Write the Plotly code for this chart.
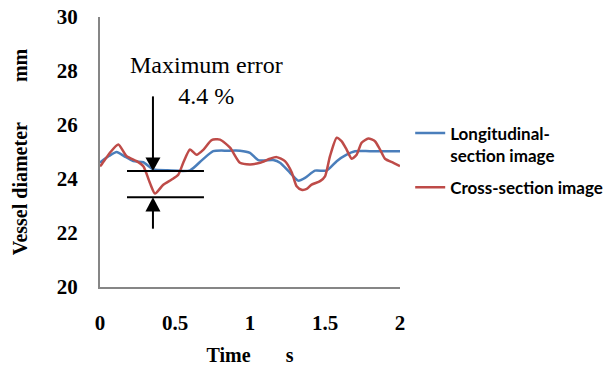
import plotly.graph_objects as go

# Data
t_long = [0, 0.011, 0.06, 0.111, 0.16, 0.222, 0.289, 0.33, 0.355, 0.45, 0.6, 0.68, 0.755,
          0.85, 0.933, 1.0, 1.055, 1.155, 1.2, 1.267, 1.322, 1.367, 1.433, 1.511, 1.578,
          1.644, 1.7, 1.8, 2.0]
d_long = [24.6, 24.66, 24.85, 25.0, 24.85, 24.66, 24.62, 24.45, 24.35, 24.32, 24.32, 24.7, 25.03,
          25.05, 25.05, 24.97, 24.7, 24.7, 24.6, 24.23, 23.94, 24.04, 24.31, 24.31, 24.66,
          24.9, 25.03, 25.03, 25.03]

t_cross = [0, 0.011, 0.07, 0.122, 0.178, 0.244, 0.289, 0.333, 0.367, 0.422, 0.478, 0.522,
           0.555, 0.6, 0.644, 0.69, 0.744, 0.8, 0.867, 0.933, 1.0, 1.067, 1.133, 1.178,
           1.233, 1.278, 1.311, 1.344, 1.378, 1.411, 1.467, 1.5, 1.533, 1.578, 1.61, 1.644,
           1.678, 1.711, 1.744, 1.789, 1.833, 1.867, 1.9, 1.956, 2.0]
d_cross = [24.47, 24.54, 25.0, 25.28, 24.84, 24.66, 24.47, 23.85, 23.46, 23.79, 23.98, 24.16,
           24.6, 25.09, 24.9, 25.09, 25.44, 25.46, 25.16, 24.6, 24.54, 24.6, 24.75, 24.81,
           24.66, 24.25, 23.73, 23.6, 23.63, 23.79, 23.92, 24.1, 24.84, 25.53, 25.4, 25.09,
           24.75, 24.9, 25.34, 25.5, 25.4, 25.09, 24.75, 24.6, 24.48]

x_ticks = [0, 0.5, 1, 1.5, 2]
x_ticklabels = ["0", "0.5", "1", "1.5", "2"]
y_ticks = [20, 22, 24, 26, 28, 30]

series_names = ["Longitudinal-<br>section image", "Cross-section image"]

# Error annotation values
err_upper = 24.3
err_lower = 23.32
err_x = 0.353
err_x0, err_x1 = 0.18, 0.693
arrow_top, arrow_bottom = 27.06, 22.16
err_label = "Maximum error<br>4.4 %"

fig = go.Figure()
fig.add_trace(go.Scatter(x=t_long, y=d_long, mode="lines", name=series_names[0], legendgroup="long",
                         line=dict(color="#4A7EBB", width=2.5, shape="spline", smoothing=0.6)))
fig.add_trace(go.Scatter(x=t_cross, y=d_cross, mode="lines", name=series_names[1], legendgroup="cross",
                         line=dict(color="#BE4B48", width=2.5, shape="spline", smoothing=0.6)))

blk = dict(color="black", width=2)
# horizontal error lines
fig.add_shape(type="line", x0=err_x0, x1=err_x1, y0=err_upper, y1=err_upper, xref="x", yref="y", line=blk)
fig.add_shape(type="line", x0=err_x0, x1=err_x1, y0=err_lower, y1=err_lower, xref="x", yref="y", line=blk)
# vertical arrow shafts
fig.add_shape(type="line", x0=err_x, x1=err_x, y0=arrow_top, y1=err_upper + 0.3, xref="x", yref="y", line=blk)
fig.add_shape(type="line", x0=err_x, x1=err_x, y0=err_lower - 0.3, y1=arrow_bottom, xref="x", yref="y", line=blk)
# arrowheads
hw = 0.05
fig.add_shape(type="path", xref="x", yref="y", fillcolor="black", line=dict(width=0),
              path=f"M {err_x - hw} {err_upper + 0.5} L {err_x + hw} {err_upper + 0.5} L {err_x} {err_upper} Z")
fig.add_shape(type="path", xref="x", yref="y", fillcolor="black", line=dict(width=0),
              path=f"M {err_x - hw} {err_lower - 0.52} L {err_x + hw} {err_lower - 0.52} L {err_x} {err_lower} Z")

fig.add_annotation(x=0.713, y=27.65, xref="x", yref="y", text=err_label, showarrow=False,
                   font=dict(family="Liberation Serif", size=24, color="black"), align="center")

fig.update_layout(
    width=611, height=366,
    margin=dict(l=100, r=211, t=17, b=79, autoexpand=False),
    paper_bgcolor="white", plot_bgcolor="white",
    showlegend=True,
    legend=dict(x=1.034, y=0.635, xanchor="left", yanchor="top", valign="top",
                font=dict(family="Lato", size=17, color="black", weight="bold"),
                itemwidth=30, tracegroupgap=7, bgcolor="rgba(0,0,0,0)"),
    xaxis=dict(range=[0, 2], tickvals=x_ticks, ticktext=x_ticklabels, showgrid=False, zeroline=False,
               showline=True, linecolor="#868686", linewidth=2, ticks="", automargin=False,
               ticklabeloverflow="allow",
               tickfont=dict(family="Liberation Serif", size=21, color="black", weight="bold"),
               ticklabelstandoff=16,
               title=dict(text="Time\u00a0\u00a0\u00a0\u00a0\u00a0\u00a0\u00a0s", standoff=14,
                          font=dict(family="Liberation Serif", size=20, color="black", weight="bold"))),
    yaxis=dict(range=[20, 30], tickvals=y_ticks, showgrid=False, zeroline=False,
               showline=True, linecolor="#868686", linewidth=2, ticks="", automargin=False,
               ticklabeloverflow="allow",
               tickfont=dict(family="Liberation Serif", size=21, color="black", weight="bold"),
               ticklabelstandoff=16,
               title=dict(text="Vessel diameter\u00a0\u00a0\u00a0\u00a0\u00a0\u00a0\u00a0\u00a0mm", standoff=24,
                          font=dict(family="Liberation Serif", size=20, color="black", weight="bold"))),
)

# remove the default 8px page margin so the figure fills the window exactly
fig.write_html("out.html", config={"displayModeBar": False},
               post_script="document.body.style.margin='0';")
